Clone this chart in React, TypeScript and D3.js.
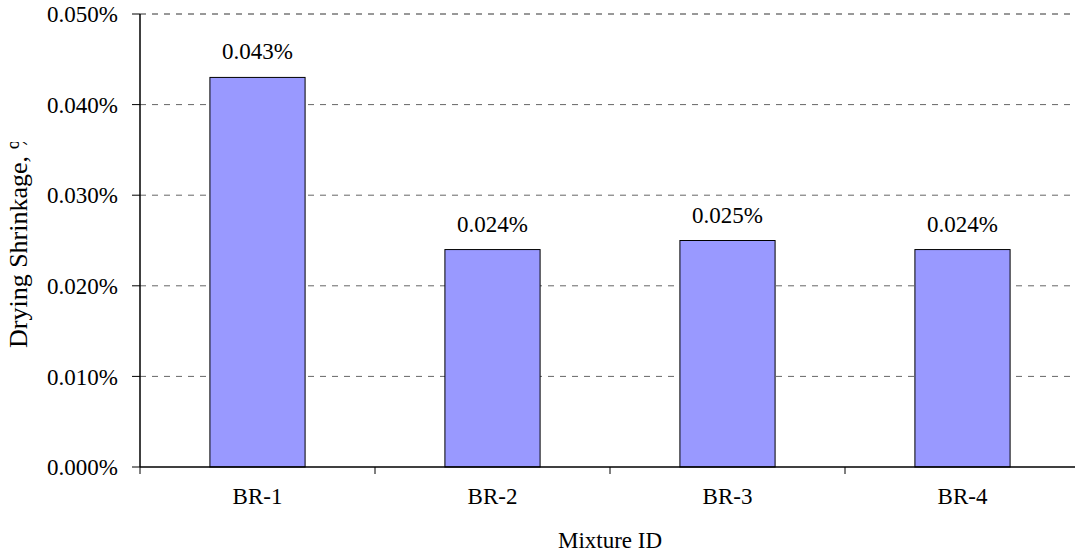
import React from "react";
import * as d3 from "d3";

const categories = ["BR-1", "BR-2", "BR-3", "BR-4"];
const values = [0.043, 0.024, 0.025, 0.024];
const valueLabels = ["0.043%", "0.024%", "0.025%", "0.024%"];
const yTicks = [0, 0.01, 0.02, 0.03, 0.04, 0.05];
const yTickLabels = ["0.000%", "0.010%", "0.020%", "0.030%", "0.040%", "0.050%"];
const yTitle = "Drying Shrinkage, %";
const xTitle = "Mixture ID";

const W = 1075;
const H = 556;
const left = 140;
const right = 1080;
const top = 14;
const bottom = 467;
const FONT = "'Liberation Serif', 'Times New Roman', serif";
const FS = 23;

export default function App() {
  const x = d3.scaleBand<string>().domain(categories).range([left, right]).paddingInner(0).paddingOuter(0);
  const y = d3.scaleLinear().domain([0, 0.05]).range([bottom, top]);
  const bw = x.bandwidth() * 0.405;

  return (
    <svg
      width={W}
      height={H}
      style={{ position: "absolute", left: 0, top: 0, background: "#fff" }}
      fontFamily={FONT}
    >
      <defs>
        <clipPath id="ytitleclip">
          <rect x={0} y={142} width={60} height={300} />
        </clipPath>
      </defs>
      <rect x={0} y={0} width={W} height={H} fill="#fff" />
      {yTicks.map((t, i) => (
        <g key={"g" + i}>
          {t > 0 && (
            <line
              x1={left}
              x2={right}
              y1={y(t)}
              y2={y(t)}
              stroke={i === yTicks.length - 1 ? "#333" : "#666"}
              strokeWidth={1}
              strokeDasharray="6,6"
            />
          )}
          <line x1={left - 8} x2={left} y1={y(t)} y2={y(t)} stroke="#000" />
          <text x={left - 22} y={y(t)} dy="0.36em" textAnchor="end" fontSize={FS} fill="#000">
            {yTickLabels[i]}
          </text>
        </g>
      ))}
      {categories.map((c, i) => {
        const cx = (x(c) as number) + x.bandwidth() / 2;
        return (
          <g key={c}>
            <rect
              x={cx - bw / 2}
              y={y(values[i])}
              width={bw}
              height={bottom - y(values[i])}
              fill="#9999FF"
              stroke="#000"
              strokeWidth={1}
            />
            <text x={cx} y={y(values[i]) - 18} textAnchor="middle" fontSize={FS} fill="#000">
              {valueLabels[i]}
            </text>
            <text x={cx} y={504} textAnchor="middle" fontSize={FS} fill="#000">
              {c}
            </text>
            <line x1={x(c) as number} x2={x(c) as number} y1={bottom} y2={bottom + 7} stroke="#000" />
          </g>
        );
      })}
      <line x1={left} x2={left} y1={top} y2={bottom} stroke="#000" strokeWidth={1.5} />
      <line x1={left} x2={right} y1={bottom} y2={bottom} stroke="#000" strokeWidth={1.5} />
      <text x={(left + right) / 2} y={548} textAnchor="middle" fontSize={FS} fill="#000">
        {xTitle}
      </text>
      <g clipPath="url(#ytitleclip)">
        <text
          transform={`translate(27,348) rotate(-90)`}
          textAnchor="start"
          fontSize={26}
          fill="#000"
        >
          {yTitle}
        </text>
      </g>
    </svg>
  );
}
